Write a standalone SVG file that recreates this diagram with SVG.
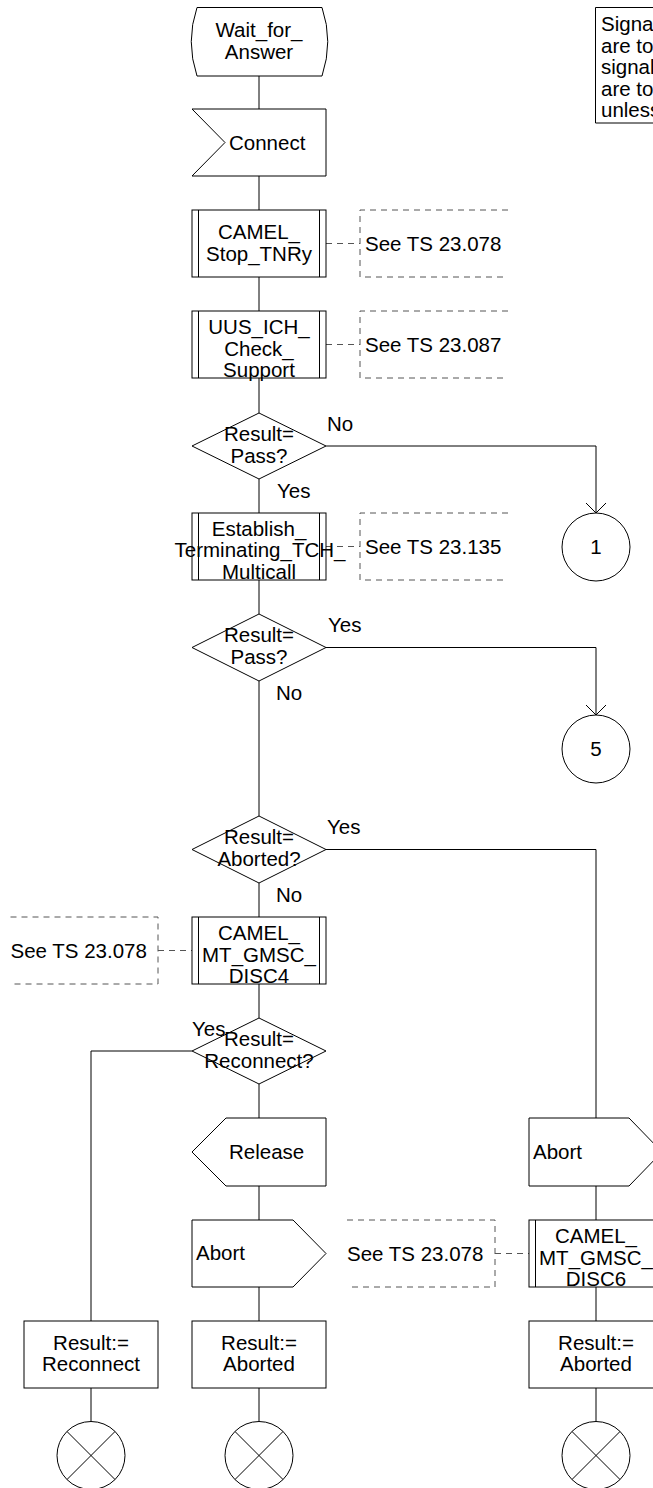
<svg xmlns="http://www.w3.org/2000/svg" width="653" height="1488" viewBox="0 0 653 1488">
<style>
.s{fill:#fff;stroke:#000;stroke-width:1}
.n{fill:none;stroke:#000;stroke-width:1}
.d{fill:none;stroke:#555;stroke-width:1;stroke-dasharray:6 5}
.t{font-family:"Liberation Sans",Arial,sans-serif;font-size:20.5px;fill:#000}
.c{text-anchor:middle}
</style>
<defs>
<marker id="arr" viewBox="-11 -11 22 22" markerWidth="22" markerHeight="22" refX="0" refY="0" orient="auto" markerUnits="userSpaceOnUse" overflow="visible">
<path d="M-10,-10 L0,0 L-10,10" fill="none" stroke="#000" stroke-width="1"/>
</marker>
</defs>
<rect width="653" height="1488" fill="#fff"/>

<g id="connectors">
<path class="n" d="M259,76 V109 M259,176 V210 M259,277 V311 M259,378 V413 M259,479 V513 M259,580 V614 M259,681 V816 M259,883 V917 M259,984 V1018 M259,1084 V1118 M259,1186 V1220 M259,1287 V1321 M259,1388 V1421"/>
<path class="n" d="M326,446 H596 V513" marker-end="url(#arr)"/>
<path class="n" d="M326,647.5 H596 V715" marker-end="url(#arr)"/>
<path class="n" d="M326,849.5 H596 V1118"/>
<path class="n" d="M192,1051 H91 V1321"/>
<path class="n" d="M91,1388 V1421 M596,1186 V1220 M596,1287 V1321 M596,1388 V1421"/>
<path class="d" d="M326,243.5 H360 M326,344.5 H360 M326,546.5 H360 M158,950.5 H192 M495,1253.5 H529"/>
<text class="t" x="327" y="431">No</text>
<text class="t" x="277" y="498">Yes</text>
<text class="t" x="328" y="632">Yes</text>
<text class="t" x="276" y="700">No</text>
<text class="t" x="327" y="834">Yes</text>
<text class="t" x="276" y="902">No</text>
<text class="t" x="192" y="1036">Yes</text>
</g>

<g id="note">
<path class="n" d="M660,7.5 H595.5 V123 H660"/>
<text class="t" x="601" y="31">Signa</text>
<text class="t" x="601" y="52.5">are to</text>
<text class="t" x="601" y="74">signal</text>
<text class="t" x="601" y="95.5">are to</text>
<text class="t" x="601" y="117">unless</text>
</g>

<g id="wait_for_answer">
<path class="s" d="M197,7.5 H322 Q333.5,41.5 322,76 H197 Q185.5,41.5 197,7.5 Z"/>
<text class="t c" x="259" y="37.3">Wait_for_</text>
<text class="t c" x="259" y="58.5">Answer</text>
</g>

<g id="connect">
<polygon class="s" points="192,109 326,109 326,176 192,176 225,142.5"/>
<text class="t" x="229" y="149.5">Connect</text>
</g>

<g id="camel_stop_tnry">
<rect class="s" x="192" y="210" width="134" height="67"/>
<path class="n" d="M198.5,210 V277 M319.5,210 V277"/>
<text class="t c" x="259" y="239.3">CAMEL_</text>
<text class="t c" x="259" y="260.7">Stop_TNRy</text>
</g>
<g id="comment_23078_a">
<path class="d" d="M508,210 H360 V277 H508"/>
<text class="t" x="365" y="251">See TS 23.078</text>
</g>

<g id="uus_ich_check_support">
<rect class="s" x="192" y="311" width="134" height="67"/>
<path class="n" d="M198.5,311 V378 M319.5,311 V378"/>
<text class="t c" x="259" y="334">UUS_ICH_</text>
<text class="t c" x="259" y="355.5">Check_</text>
<text class="t c" x="259" y="377">Support</text>
</g>
<g id="comment_23087">
<path class="d" d="M508,311 H360 V378 H508"/>
<text class="t" x="365" y="352">See TS 23.087</text>
</g>

<g id="decision_pass_1">
<polygon class="s" points="259,413 326,446 259,479 192,446"/>
<text class="t c" x="259" y="441">Result=</text>
<text class="t c" x="259" y="462.5">Pass?</text>
</g>

<g id="connector_1">
<circle class="s" cx="596" cy="547" r="34"/>
<text class="t c" x="596" y="553.5">1</text>
</g>

<g id="establish_terminating_tch_multicall">
<rect class="s" x="192" y="513" width="134" height="67"/>
<path class="n" d="M198.5,513 V580 M319.5,513 V580"/>
<text class="t c" x="259" y="535.5">Establish_</text>
<text class="t c" x="260" y="557">Terminating_TCH_</text>
<text class="t c" x="259" y="578.5">Multicall</text>
</g>
<g id="comment_23135">
<path class="d" d="M508,513 H360 V580 H508"/>
<text class="t" x="365" y="554">See TS 23.135</text>
</g>

<g id="decision_pass_2">
<polygon class="s" points="259,614 326,647.5 259,681 192,647.5"/>
<text class="t c" x="259" y="642">Result=</text>
<text class="t c" x="259" y="663.5">Pass?</text>
</g>

<g id="connector_5">
<circle class="s" cx="596" cy="749" r="34"/>
<text class="t c" x="596" y="755.5">5</text>
</g>

<g id="decision_aborted">
<polygon class="s" points="259,816 326,849.5 259,883 192,849.5"/>
<text class="t c" x="259" y="844">Result=</text>
<text class="t c" x="259" y="865.5">Aborted?</text>
</g>

<g id="camel_mt_gmsc_disc4">
<rect class="s" x="192" y="917" width="134" height="67"/>
<path class="n" d="M198.5,917 V984 M319.5,917 V984"/>
<text class="t c" x="259" y="940">CAMEL_</text>
<text class="t c" x="259" y="961.5">MT_GMSC_</text>
<text class="t c" x="259" y="983">DISC4</text>
</g>
<g id="comment_23078_b">
<path class="d" d="M10.5,917 H158 V984 H10.5"/>
<text class="t" x="10.5" y="957.5">See TS 23.078</text>
</g>

<g id="decision_reconnect">
<polygon class="s" points="259,1018 326,1051 259,1084 192,1051"/>
<text class="t c" x="259" y="1046">Result=</text>
<text class="t c" x="259" y="1067.5">Reconnect?</text>
</g>

<g id="release">
<polygon class="s" points="226,1118 326,1118 326,1186 226,1186 192,1152"/>
<text class="t" x="229" y="1159">Release</text>
</g>

<g id="abort_a">
<polygon class="s" points="192,1220 293,1220 326,1253.5 293,1287 192,1287"/>
<text class="t" x="196" y="1260">Abort</text>
</g>
<g id="comment_23078_c">
<path class="d" d="M347,1220 H495 V1287 H347"/>
<text class="t" x="347" y="1260.5">See TS 23.078</text>
</g>

<g id="abort_b">
<polygon class="s" points="529,1118 629,1118 662,1152 629,1186 529,1186"/>
<text class="t" x="533" y="1159">Abort</text>
</g>

<g id="camel_mt_gmsc_disc6">
<rect class="s" x="529" y="1220" width="134" height="67"/>
<path class="n" d="M535.5,1220 V1287 M656.5,1220 V1287"/>
<text class="t c" x="596" y="1243">CAMEL_</text>
<text class="t c" x="596" y="1264.5">MT_GMSC_</text>
<text class="t c" x="596" y="1286">DISC6</text>
</g>

<g id="result_reconnect">
<rect class="s" x="24" y="1321" width="134" height="67"/>
<text class="t c" x="91" y="1349.5">Result:=</text>
<text class="t c" x="91" y="1371">Reconnect</text>
</g>
<g id="result_aborted_a">
<rect class="s" x="192" y="1321" width="134" height="67"/>
<text class="t c" x="259" y="1349.5">Result:=</text>
<text class="t c" x="259" y="1371">Aborted</text>
</g>
<g id="result_aborted_b">
<rect class="s" x="529" y="1321" width="134" height="67"/>
<text class="t c" x="596" y="1349.5">Result:=</text>
<text class="t c" x="596" y="1371">Aborted</text>
</g>

<g id="return_a">
<circle class="s" cx="91" cy="1455.5" r="34"/>
<path class="n" d="M67,1431.5 L115,1479.5 M115,1431.5 L67,1479.5"/>
</g>
<g id="return_b">
<circle class="s" cx="259" cy="1455.5" r="34"/>
<path class="n" d="M235,1431.5 L283,1479.5 M283,1431.5 L235,1479.5"/>
</g>
<g id="return_c">
<circle class="s" cx="596" cy="1455.5" r="34"/>
<path class="n" d="M572,1431.5 L620,1479.5 M620,1431.5 L572,1479.5"/>
</g>
</svg>
